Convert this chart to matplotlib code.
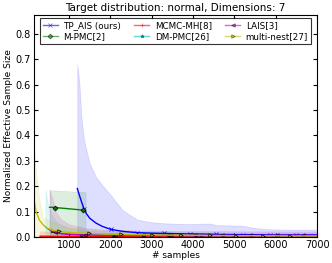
import matplotlib
matplotlib.use("Agg")
import matplotlib.pyplot as plt
import numpy as np

# TP_AIS (ours)
tp_x = [1200, 1250, 1300, 1365, 1420, 1500, 1650, 1800, 2010, 2300, 2655, 3000,
        3290, 3600, 3920, 4400, 4565, 5210, 5500, 5850, 6495, 7000]
tp_y = [0.191, 0.165, 0.140, 0.110, 0.092, 0.074, 0.055, 0.042, 0.030, 0.022, 0.017,
        0.015, 0.014, 0.013, 0.012, 0.011, 0.010, 0.009, 0.009, 0.008, 0.008, 0.008]
tp_hi = [0.680, 0.610, 0.470, 0.380, 0.343, 0.290, 0.237, 0.205, 0.165, 0.105, 0.068,
         0.058, 0.054, 0.052, 0.051, 0.053, 0.047, 0.044, 0.035, 0.030, 0.029, 0.029]
tp_mark = [3, 8, 10, 12, 14, 16, 17, 19, 20]

# M-PMC
mp_x = [530, 600, 670, 800, 1000, 1200, 1338, 1400]
mp_y = [0.117, 0.117, 0.116, 0.114, 0.111, 0.108, 0.106, 0.105]
mp_hi = [0.185, 0.184, 0.183, 0.182, 0.180, 0.178, 0.177, 0.177]
mp_mark = [2, 6]

# MCMC-MH
mh_x = [300, 400, 700, 1000, 1400, 2000, 2500, 3000, 3600, 4300, 5000, 5700, 6400, 7000]
mh_y = [0.003, 0.003, 0.002, 0.002, 0.002, 0.002, 0.002, 0.002, 0.002, 0.002, 0.002,
        0.002, 0.002, 0.002]
mh_hi = [0.022, 0.022, 0.020, 0.012, 0.008, 0.006, 0.005, 0.005, 0.005, 0.005, 0.005,
         0.005, 0.005, 0.005]
mh_mark = [2, 4, 5, 7, 8, 9, 10, 11, 12]

# DM-PMC
dm_x = [430, 500, 600, 700, 850, 1000, 1300, 1700, 2060, 2785, 3500, 4200, 5000, 6000, 7000]
dm_y = [0.040, 0.030, 0.022, 0.017, 0.013, 0.011, 0.009, 0.008, 0.007, 0.006, 0.006,
        0.005, 0.005, 0.005, 0.005]
dm_hi = [0.185, 0.120, 0.080, 0.060, 0.045, 0.035, 0.028, 0.024, 0.022, 0.020, 0.019,
         0.018, 0.018, 0.017, 0.017]
dm_mark = [2, 6, 8, 9, 10, 11, 12, 13]

# LAIS
la_x = [530, 600, 670, 800, 1000, 1395, 1800, 2107, 2800, 3400, 4045, 4690, 5380,
        6024, 6660, 7000]
la_y = [0.030, 0.022, 0.018, 0.013, 0.010, 0.008, 0.007, 0.007, 0.006, 0.006, 0.006,
        0.006, 0.006, 0.006, 0.006, 0.006]
la_hi = [0.185, 0.150, 0.100, 0.070, 0.050, 0.035, 0.030, 0.028, 0.025, 0.024, 0.023,
         0.023, 0.022, 0.022, 0.022, 0.022]
la_mark = [2, 5, 7, 8, 9, 10, 11, 12, 13, 14]

# multi-nest
mn_x = [150, 203, 285, 365, 446, 607, 770, 849, 1000, 1483, 2256, 3005, 3716, 4400,
        5050, 5700, 6345, 7000]
mn_y = [0.152, 0.099, 0.066, 0.050, 0.037, 0.026, 0.022, 0.020, 0.018, 0.014, 0.010,
        0.008, 0.007, 0.006, 0.005, 0.005, 0.004, 0.004]
mn_hi = [0.356, 0.250, 0.145, 0.079, 0.070, 0.060, 0.050, 0.045, 0.040, 0.030, 0.022,
         0.018, 0.015, 0.014, 0.013, 0.012, 0.012, 0.012]
mn_mark = [6, 9, 10, 11, 12, 13, 14, 15, 16]

series = [
    ("TP_AIS (ours)", tp_x, tp_y, tp_hi, tp_mark, "b", "x"),
    ("M-PMC[2]", mp_x, mp_y, mp_hi, mp_mark, "g", "D"),
    ("MCMC-MH[8]", mh_x, mh_y, mh_hi, mh_mark, "r", "+"),
    ("DM-PMC[26]", dm_x, dm_y, dm_hi, dm_mark, "c", "*"),
    ("LAIS[3]", la_x, la_y, la_hi, la_mark, "m", "<"),
    ("multi-nest[27]", mn_x, mn_y, mn_hi, mn_mark, "y", ">"),
]

fig = plt.figure(figsize=(3.32, 2.63), dpi=100)
ax = fig.add_axes([0.102, 0.099, 0.853, 0.844])

for name, xs, ys, hi, mk, col, m in series:
    ax.fill_between(xs, 0, hi, color=col, alpha=0.13, linewidth=0.5)
    ax.plot(xs, ys, color=col, lw=1.0, marker=m, markevery=mk, markersize=2.5,
            markeredgecolor=col if m in "x+" else "k", markeredgewidth=0.5, label=name)

ax.set_xlim(150, 7000)
ax.set_ylim(0, 0.875)
ax.set_xticks([1000, 2000, 3000, 4000, 5000, 6000, 7000])
ax.set_yticks(np.arange(0, 0.81, 0.1))
ax.yaxis.set_major_formatter(matplotlib.ticker.FormatStrFormatter("%.1f"))
ax.tick_params(direction="in", top=True, right=True, labelsize=7, length=3, pad=2)

ax.set_title("Target distribution: normal, Dimensions: 7", fontsize=7.5, pad=3)
ax.set_xlabel("# samples", fontsize=6.5, labelpad=1)
ax.set_ylabel("Normalized Effective Sample Size", fontsize=6.5, labelpad=2)

leg = ax.legend(loc="upper center", ncol=3, fontsize=6.3, frameon=True, fancybox=False,
                borderpad=0.35, handlelength=1.7, columnspacing=1.5, labelspacing=0.3,
                handletextpad=0.65, borderaxespad=0.3)
leg.get_frame().set_edgecolor("k")
leg.get_frame().set_linewidth(0.8)
for h in leg.get_lines():
    h.set_alpha(0.6)

fig.savefig("out.png", dpi=100)
